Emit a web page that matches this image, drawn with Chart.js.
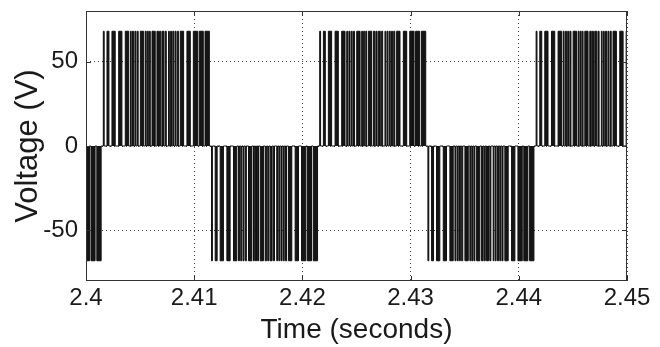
<!DOCTYPE html>
<html>
<head>
<meta charset="utf-8">
<script src="https://cdn.jsdelivr.net/npm/chart.js@4/dist/chart.umd.min.js"></script>
<style>
html, body { margin: 0; padding: 0; background: #fff; }
#wrap { width: 660px; height: 347px; }
</style>
</head>
<body>
<div id="wrap"><canvas id="myChart" width="660" height="347"></canvas></div>
<script>
'use strict'
// PWM inverter output
const amplitude = 68; // pulse height in volts
const halfCycleStarts = [2.3916, 2.4016, 2.4116, 2.4216, 2.4316, 2.4416]; // seconds
const halfCycleSigns = [-1, 1, -1, 1, -1, 1];
// switching instants inside one half cycle, ms from its start
const pulseOn  = [0.00, 0.34, 0.80, 1.42, 2.03, 2.50, 2.70, 2.92, 3.12, 3.42, 3.88, 4.06, 4.26, 4.50, 4.96, 5.20, 5.42, 5.72, 6.03, 6.22, 6.42, 6.64, 6.84, 7.11, 7.73, 8.32, 8.86, 9.40];
const pulseOff = [0.08, 0.52, 1.10, 1.72, 2.34, 2.58, 2.80, 3.00, 3.22, 3.73, 3.96, 4.16, 4.34, 4.80, 5.10, 5.30, 5.60, 5.82, 6.10, 6.30, 6.52, 6.72, 6.94, 7.42, 8.04, 8.72, 9.24, 9.80];
const xTicks = [2.4, 2.41, 2.42, 2.43, 2.44, 2.45];
const yTicks = [-50, 0, 50];

const fontFamily = '"Liberation Sans", Arial, Helvetica, sans-serif';

// turn the pulse table into step points
let points = [];
halfCycleStarts.forEach((t0, k) => {
    let level = halfCycleSigns[k] * amplitude;
    pulseOn.forEach((on, i) => {
        points.push({x: t0 + on / 1000, y: level});
        points.push({x: t0 + pulseOff[i] / 1000, y: 0});
    });
});

// box round the plot with small inward ticks, matlab style
const frame = {
    id: 'frame',
    afterDatasetsDraw(chart) {
        const {ctx, chartArea: a, scales} = chart;
        ctx.save();
        ctx.strokeStyle = '#333';
        ctx.lineWidth = 1;
        ctx.strokeRect(a.left + 0.5, a.top + 0.5, a.right - a.left - 1, a.bottom - a.top - 1);
        ctx.beginPath();
        xTicks.forEach(v => {
            let px = Math.round(scales.x.getPixelForValue(v)) + 0.5;
            ctx.moveTo(px, a.bottom); ctx.lineTo(px, a.bottom - 5);
            ctx.moveTo(px, a.top); ctx.lineTo(px, a.top + 5);
        });
        yTicks.forEach(v => {
            let py = Math.round(scales.y.getPixelForValue(v)) + 0.5;
            ctx.moveTo(a.left, py); ctx.lineTo(a.left + 5, py);
            ctx.moveTo(a.right, py); ctx.lineTo(a.right - 5, py);
        });
        ctx.stroke();
        ctx.restore();
    }
};

const config = {
    type: 'line',
    data: {
        datasets: [{
            data: points,
            stepped: true,
            borderColor: '#111',
            backgroundColor: '#151515',
            borderWidth: 1,
            fill: 'origin',
            pointRadius: 0
        }]
    },
    options: {
        responsive: false,
        animation: false,
        layout: {padding: {top: 11, right: 33, left: 0, bottom: 0}},
        plugins: {legend: {display: false}, tooltip: {enabled: false}},
        scales: {
            x: {
                type: 'linear',
                min: 2.4,
                max: 2.45,
                afterBuildTicks: axis => { axis.ticks = xTicks.map(v => ({value: v})); },
                afterFit: axis => {
                    axis.height = 66;
                    axis.paddingLeft = 0;
                    axis.paddingRight = 0;
                },
                ticks: {
                    callback: v => String(Number(v.toFixed(2))),
                    font: {family: fontFamily, size: 24},
                    color: '#1a1a1a',
                    padding: 3,
                    maxRotation: 0,
                    autoSkip: false
                },
                grid: {color: '#444', lineWidth: 1, drawTicks: false},
                border: {display: false, dash: [1, 3]},
                title: {
                    display: true,
                    text: 'Time (seconds)',
                    font: {family: fontFamily, size: 28},
                    color: '#1a1a1a',
                    padding: {top: 0, bottom: 0}
                }
            },
            y: {
                min: -80,
                max: 80,
                afterBuildTicks: axis => { axis.ticks = yTicks.map(v => ({value: v})); },
                afterFit: axis => {
                    axis.width = 86;
                    axis.paddingTop = 0;
                    axis.paddingBottom = 0;
                },
                ticks: {
                    font: {family: fontFamily, size: 24},
                    color: '#1a1a1a',
                    padding: 8
                },
                grid: {color: '#444', lineWidth: 1, drawTicks: false},
                border: {display: false, dash: [1, 3]},
                title: {
                    display: true,
                    text: 'Voltage (V)',
                    font: {family: fontFamily, size: 31},
                    color: '#1a1a1a',
                    padding: {top: 10, bottom: 0}
                }
            }
        }
    },
    plugins: [frame]
};

let myChart = new Chart(document.getElementById('myChart'), config);
</script>
</body>
</html>
